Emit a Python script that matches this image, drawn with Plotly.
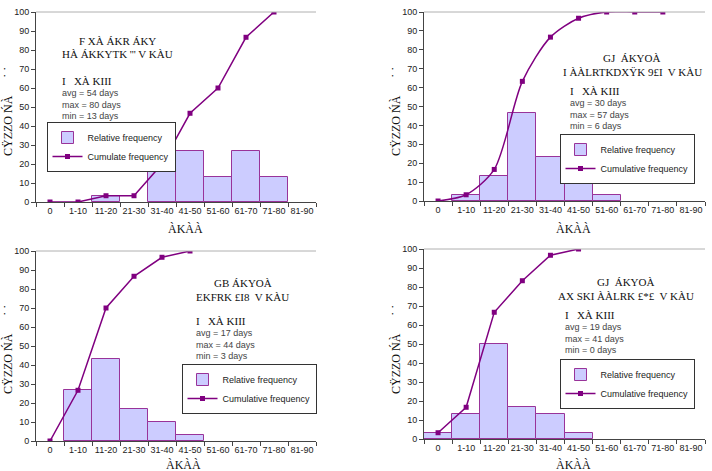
import plotly.graph_objects as go

categories = ["0", "1-10", "11-20", "21-30", "31-40", "41-50", "51-60", "61-70", "71-80", "81-90"]

rel_1 = [None, None, 3.3, None, 16.7, 26.7, 13.3, 26.7, 13.3, None]
cum_1 = [0, 0, 3.3, 3.3, 20, 46.7, 60, 86.7, 100, None]
rel_2 = [None, 3.3, 13.3, 46.7, 23.3, 10, 3.3, None, None, None]
cum_2 = [0, 3.3, 16.7, 63.3, 86.7, 96.7, 100, 100, 100, None]
rel_3 = [None, 26.7, 43.3, 16.7, 10, 3.3, None, None, None, None]
cum_3 = [0, 26.7, 70, 86.7, 96.7, 100, None, None, None, None]
rel_4 = [3.3, 13.3, 50, 16.7, 13.3, 3.3, None, None, None, None]
cum_4 = [3.3, 16.7, 66.7, 83.3, 96.7, 100, None, None, None, None]

cum_names = ["Cumulate frequency", "Cumulative frequency", "Cumulative frequency", "Cumulative frequency"]
head_1 = ["F XÀ ÁKR ÁKY", "GJ  ÁKYOÀ", "GB ÁKYOÀ", "GJ  ÁKYOÀ"]
head_2 = ["HÀ ÁKKYTK ''' V KÀU", "I ÀÀLRTKDXŸK 9£I  V KÀU", "EKFRK £I8  V KÀU", "AX SKI ÀÀLRK £*£  V KÀU"]
stat_head = ["I   XÀ KIII"] * 4
avg_days = [54, 30, 17, 19]
max_days = [80, 57, 44, 41]
min_days = [13, 6, 3, 0]
x_title = "ÀKÀÀ"
y_title = "CŸZZO ŃÀ      ˙ ˙"

W, H = 712, 471
# plot areas in pixels: (left, right, top, bottom)
areas = [(36, 316, 12, 202), (424, 705, 12, 201), (36, 316, 251, 441), (424, 705, 249, 439)]
legend_pos = [(111, 147), (627, 159), (249, 389), (627, 384)]
head_pos = [(118, 41, 54), (632, 58, 72), (243, 283, 297), (626, 282, 296)]
stat_pos = [(60, 81), (568, 91), (194, 321), (563, 315)]
xtitle_pos = [(185, 229), (573, 229), (183, 465), (573, 465)]
ytitle_pos = [(8, 112), (396, 112), (8, 350), (396, 350)]

rels = [rel_1, rel_2, rel_3, rel_4]
cums = [cum_1, cum_2, cum_3, cum_4]

SANS = "Liberation Sans, Arial, sans-serif"
TICKFONT = dict(family=SANS, size=9, color="#222")
SERIF = "Liberation Serif"
AXC = "#444444"

fig = go.Figure()
layout = dict(template="none", width=W, height=H, margin=dict(l=0, r=0, t=0, b=0),
              paper_bgcolor="white", plot_bgcolor="white", showlegend=True)
annotations = []
shapes = []


def ann(x, y, text, font, xanchor="center", yanchor="middle", **kw):
    d = dict(x=x / W, y=1 - y / H, xref="paper", yref="paper", text=text, showarrow=False,
             xanchor=xanchor, yanchor=yanchor, font=font)
    d.update(kw)
    annotations.append(d)


for i in range(4):
    n = i + 1
    l, r, t, b = areas[i]
    xd = [l / W, r / W]
    yd = [1 - b / H, 1 - t / H]
    xa = "x" if n == 1 else f"x{n}"
    ya = "y" if n == 1 else f"y{n}"
    leg = "legend" if n == 1 else f"legend{n}"

    fig.add_trace(go.Bar(x=categories, y=rels[i], name="Relative frequency", width=1,
                         marker=dict(color="#ccccff", line=dict(color="#993399", width=1)),
                         xaxis=xa, yaxis=ya, legend=leg))
    fig.add_trace(go.Scatter(x=categories, y=cums[i], name=cum_names[i], mode="lines+markers",
                             line=dict(color="#800080", width=1.5, shape="spline" if n == 2 else "linear",
                                       smoothing=0.8),
                             marker=dict(symbol="square", size=5, color="#800080"),
                             xaxis=xa, yaxis=ya, legend=leg))

    layout[f"xaxis{n}"] = dict(domain=xd, anchor=ya, type="category", categoryarray=categories,
                               range=[-0.5, 9.5], tickson="boundaries", ticks="outside", ticklen=4,
                               tickcolor=AXC, showline=True, linecolor=AXC, linewidth=1, tickangle=0,
                               showgrid=False, zeroline=False, tickfont=TICKFONT, automargin=False)
    layout[f"yaxis{n}"] = dict(domain=yd, anchor=xa, range=[0, 100], tickvals=list(range(0, 101, 10)),
                               ticks="outside", ticklen=4, tickcolor=AXC, showline=True, linecolor=AXC,
                               linewidth=1, showgrid=False, zeroline=False, tickfont=TICKFONT,
                               automargin=False)
    layout[f"yaxis{n + 4}"] = dict(domain=yd, anchor=xa, overlaying=ya, range=[0, 100],
                                   tickvals=list(range(0, 101, 10)), ticks="inside", ticklen=3,
                                   tickcolor=AXC, showticklabels=False, showline=False, showgrid=False,
                                   zeroline=False, automargin=False)
    layout[f"yaxis{n + 8}"] = dict(domain=yd, anchor=xa, overlaying=ya, side="right", range=[0, 100],
                                   tickvals=[0, 25, 50, 75, 100], ticks="outside", ticklen=4,
                                   tickcolor=AXC, showticklabels=False, showline=True, linecolor=AXC,
                                   linewidth=1, showgrid=False, zeroline=False, automargin=False)
    layout[f"yaxis{n + 12}"] = dict(domain=yd, anchor=xa, overlaying=ya, side="right", range=[0, 100],
                                    tickvals=[0, 25, 50, 75, 100], ticks="inside", ticklen=4,
                                    tickcolor=AXC, showticklabels=False, showline=False,
                                    showgrid=False, zeroline=False, automargin=False)

    shapes.append(dict(type="line", xref=f"{xa} domain", yref=f"{ya} domain", x0=0, x1=1, y0=1, y1=1,
                       line=dict(color="#b0b0b0", width=1)))

    lx, ly = legend_pos[i]
    layout[leg] = dict(x=lx / W, y=1 - ly / H, xanchor="center", yanchor="middle", bgcolor="white",
                       bordercolor="#333", borderwidth=1, font=dict(family=SANS, size=9, color="#222"),
                       itemwidth=30, tracegroupgap=0)

    serif_font = dict(family=SERIF, size=12, color="#111")
    head_font = dict(family=SERIF, size=11, color="#111")
    hx, hy1, hy2 = head_pos[i]
    ann(hx, hy1, head_1[i], head_font)
    ann(hx, hy2, head_2[i], head_font)
    sx, sy = stat_pos[i]
    ann(sx, sy, stat_head[i], head_font, xanchor="left")
    stats = f"avg = {avg_days[i]} days<br>max = {max_days[i]} days<br>min = {min_days[i]} days"
    ann(sx, sy + 5, stats, dict(family=SANS, size=9, color="#444"), xanchor="left", yanchor="top",
        align="left")
    tx, ty = xtitle_pos[i]
    ann(tx, ty, x_title, serif_font)
    yx, yy = ytitle_pos[i]
    ann(yx, yy, y_title, serif_font, textangle=-90)

layout["annotations"] = annotations
layout["shapes"] = shapes
layout["bargap"] = 0
fig.update_layout(**layout)
fig.write_html("out.html")
